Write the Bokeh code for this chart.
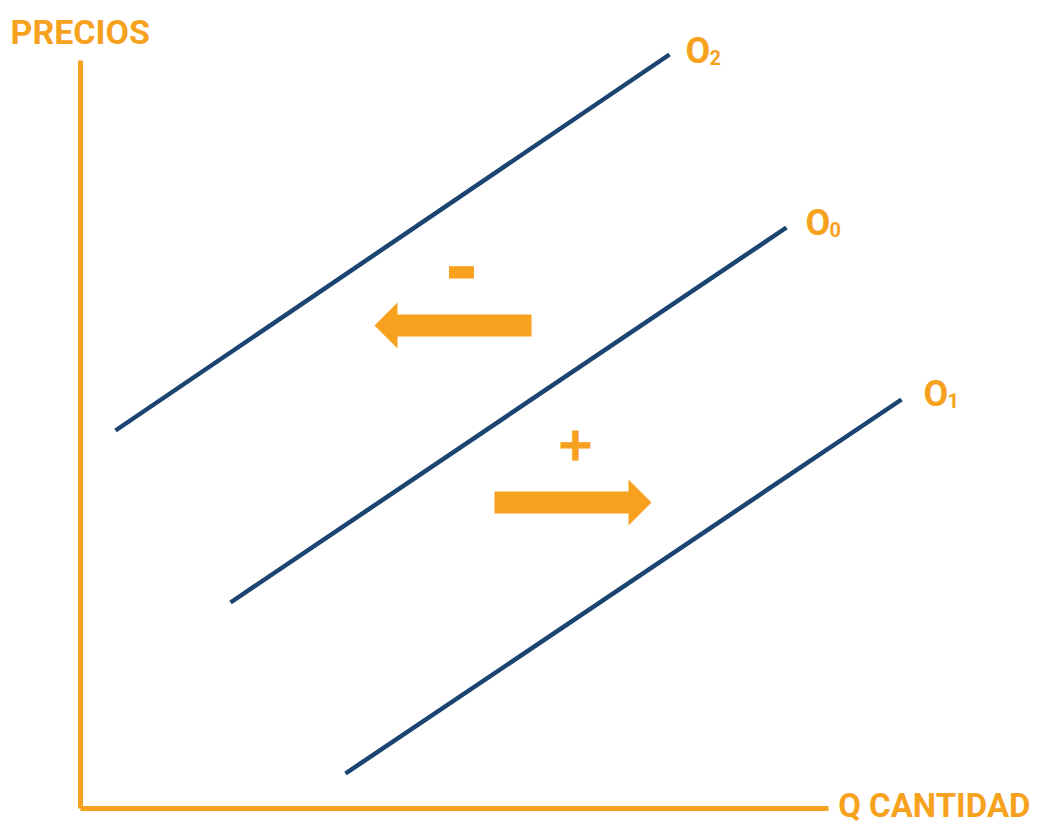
from bokeh.plotting import figure
from bokeh.models import Range1d
from bokeh.core.properties import value
from bokeh.embed import file_html
from bokeh.resources import INLINE

# ---- data (conceptual units: quantity on x, price on y) ----
curve_names = ["O2", "O0", "O1"]
curve_sub = ["2", "0", "1"]
curve_x0 = [35, 150, 265]
curve_y0 = [378, 206, 35]
curve_x1 = [589, 706, 821]
curve_y1 = [754, 581, 409]

label_x = [605, 725, 843]
label_y = [743, 571, 400]

# shift arrows: y level, tail x, tip x
arrow_y = [483, 306]
arrow_tail = [451, 414]
arrow_tip = [294, 571]
arrow_sign = ["-", "+"]
sign_x = [381, 495]
sign_y = [543, 366]

axis_len_x = 748
axis_len_y = 748

ORANGE = "#F7A21E"
NAVY = "#1B4470"
FONT = "Roboto"
SHIFT = 0.4  # renderer draws text ~0.4em below the requested baseline


def base(y, size):
    return y + SHIFT * size


p = figure(width=1037, height=828, output_backend="svg", toolbar_location=None,
           x_range=Range1d(-80, 957), y_range=Range1d(-20, 808),
           min_border=0, outline_line_color=None)
p.axis.visible = False
p.grid.visible = False
p.background_fill_color = "white"

# axes
p.line([0, 0], [0, axis_len_y], line_color=ORANGE, line_width=5)
p.line([0, axis_len_x], [0, 0], line_color=ORANGE, line_width=5)

# supply curves
p.segment(x0=curve_x0, y0=curve_y0, x1=curve_x1, y1=curve_y1,
          line_color=NAVY, line_width=4.5)

# curve labels
p.text(x=label_x, y=[base(y, 36) for y in label_y], text=["O"] * 3, text_color=ORANGE,
       text_font=value(FONT), text_font_style="bold", text_font_size="36px",
       text_baseline="alphabetic", text_align="left")
p.text(x=[x + 24 for x in label_x], y=[base(y, 20) for y in label_y], text=curve_sub,
       text_color=ORANGE, text_font=value(FONT), text_font_style="bold",
       text_font_size="20px", text_baseline="alphabetic", text_align="left")

# arrows
half_body = 11
half_head = 23
head_len = 23
xs, ys = [], []
for yc, xt, xp in zip(arrow_y, arrow_tail, arrow_tip):
    d = 1 if xp > xt else -1
    hb = xp - d * head_len
    xs.append([xt, hb, hb, xp, hb, hb, xt])
    ys.append([yc + half_body, yc + half_body, yc + half_head, yc,
               yc - half_head, yc - half_body, yc - half_body])
p.patches(xs, ys, fill_color=ORANGE, line_color=None)

p.text(x=sign_x, y=sign_y, text=arrow_sign, text_color=ORANGE,
       text_font=value("DejaVu Sans"), text_font_style="bold",
       text_font_size=["78px", "46px"], text_baseline="alphabetic", text_align="center",
       text_outline_color=ORANGE)

# axis titles
p.text(x=[-70], y=[base(763, 34)], text=["PRECIOS"], text_color=ORANGE,
       text_font=value(FONT), text_font_style="bold", text_font_size="34px",
       text_baseline="alphabetic", text_align="left")
p.text(x=[950], y=[base(-10, 33)], text=["Q CANTIDAD"], text_color=ORANGE,
       text_font=value(FONT), text_font_style="bold", text_font_size="33px",
       text_baseline="alphabetic", text_align="right")

open("out.html", "w").write(file_html(p, INLINE))
